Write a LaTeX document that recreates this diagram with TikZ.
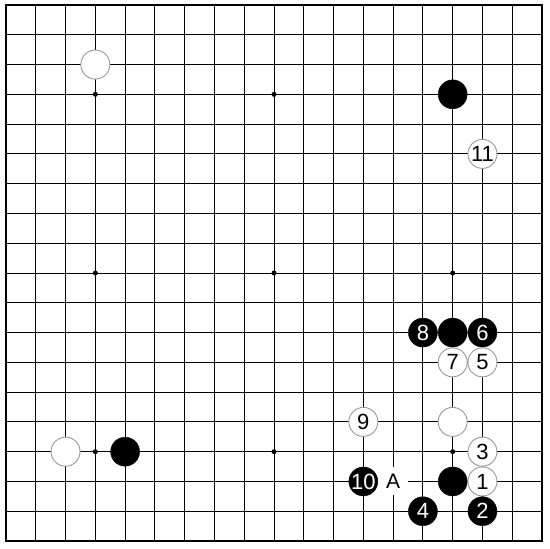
\documentclass[tikz,border=0pt]{standalone}
\usepackage{fontspec}
\setmainfont{Liberation Sans}
\begin{document}
\begin{tikzpicture}[x=29.78pt,y=-29.78pt,
  stonebase/.style={circle,minimum size=29pt,inner sep=0pt,font=\fontsize{22}{22}\selectfont},
  bstone/.style={stonebase,fill=black,draw=black,text=white},
  wstone/.style={stonebase,fill=white,draw=gray!80,line width=0.9pt,text=black},
  lbl/.style={fill=white,inner sep=0pt,minimum width=30pt,minimum height=28pt,font=\fontsize{21}{21}\selectfont},
  star/.style={circle,fill=black,inner sep=0pt,minimum size=5pt},
  gridline/.style={line width=1pt,draw=black}]
\useasboundingbox (0.7985,0.832) rectangle (19.268,19.267);
\fill[white] (0.7985,0.832) rectangle (19.268,19.267);
\foreach \i in {2,...,18}{
  \draw[gridline] (\i,1) -- (\i,19);
  \draw[gridline] (1,\i) -- (19,\i);
}
\draw[line width=2.4pt] (1,1) rectangle (19,19);
\foreach \a/\b [count=\k] in {4/4,10/4,16/4,4/10,10/10,16/10,4/16,10/16,16/16}
  \node[star] (s\k) at (\a,\b) {};
% stones
\node[wstone] (w1) at (4,3) {};
\node[bstone] (b1) at (16,4) {};
\node[wstone] (m11) at (17,6) {11};
\node[bstone] (m8) at (15,12) {8};
\node[bstone] (b2) at (16,12) {};
\node[bstone] (m6) at (17,12) {6};
\node[wstone] (m7) at (16,13) {7};
\node[wstone] (m5) at (17,13) {5};
\node[wstone] (m9) at (13,15) {9};
\node[wstone] (w2) at (16,15) {};
\node[wstone] (m3) at (17,16) {3};
\node[wstone] (w3) at (3,16) {};
\node[bstone] (b3) at (5,16) {};
\node[bstone] (m10) at (13,17) {10};
\node[lbl] (lA) at (14,17) {A};
\node[bstone] (b4) at (16,17) {};
\node[wstone] (m1) at (17,17) {1};
\node[bstone] (m4) at (15,18) {4};
\node[bstone] (m2) at (17,18) {2};
\end{tikzpicture}
\end{document}
